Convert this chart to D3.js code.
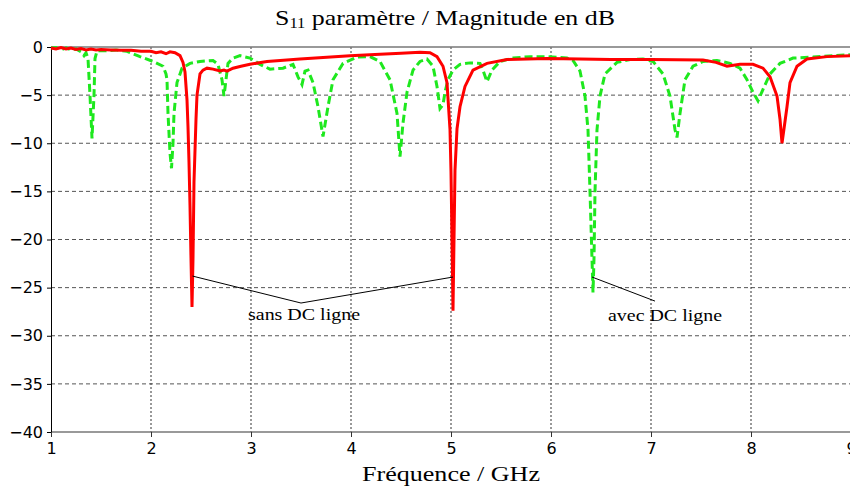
<!DOCTYPE html>
<html><head><meta charset="utf-8">
<script src="https://cdn.jsdelivr.net/npm/d3@7"></script>
<style>body{margin:0;background:#fff;} svg{display:block;}</style>
</head><body>
<svg id="c" width="850" height="488"></svg>
<script>
// ---- data ----
const xTicks = [1,2,3,4,5,6,7,8,9];
const yTicks = [0,-5,-10,-15,-20,-25,-30,-35,-40];
const redFreq = [1.00,1.05,1.10,1.15,1.20,1.25,1.30,1.35,1.40,1.45,1.50,1.60,1.70,1.80,1.90,2.00,2.05,2.10,2.15,2.19,2.24,2.29,2.32,2.34,2.36,2.37,2.38,2.39,2.40,2.41,2.42,2.43,2.45,2.46,2.49,2.52,2.56,2.62,2.69,2.73,2.76,2.82,2.90,2.99,3.16,3.49,3.99,4.29,4.50,4.69,4.79,4.86,4.92,4.96,4.99,5.00,5.01,5.02,5.03,5.04,5.06,5.09,5.14,5.22,5.36,5.56,5.96,6.29,6.60,7.00,7.52,7.65,7.76,7.89,8.02,8.12,8.19,8.26,8.29,8.31,8.33,8.36,8.39,8.46,8.56,8.76,8.99];
const redDb = [-0.1,-0.2,-0.05,-0.2,-0.1,-0.25,-0.15,-0.3,-0.2,-0.3,-0.25,-0.3,-0.35,-0.35,-0.45,-0.45,-0.6,-0.5,-0.7,-0.5,-0.6,-0.9,-1.6,-2.6,-5.5,-8.3,-12,-16.5,-22,-27,-22,-14,-7.5,-5,-2.8,-2.4,-2.2,-2.3,-2.5,-2.4,-2.5,-2.2,-2.0,-1.8,-1.5,-1.25,-0.9,-0.75,-0.65,-0.55,-0.6,-1.0,-2.0,-3.7,-8.6,-13,-20,-27.4,-20,-12.8,-8.5,-6.2,-4.1,-2.4,-1.7,-1.3,-1.2,-1.25,-1.3,-1.3,-1.35,-1.6,-2.0,-1.8,-1.8,-2.2,-3.1,-5.1,-7.5,-10,-8.5,-6.2,-3.7,-2.0,-1.25,-1.0,-0.9];
const greenFreq = [1.00,1.05,1.10,1.15,1.20,1.25,1.30,1.33,1.35,1.37,1.39,1.41,1.43,1.44,1.46,1.55,1.65,1.76,1.89,2.02,2.12,2.15,2.16,2.17,2.19,2.205,2.22,2.23,2.26,2.31,2.39,2.49,2.62,2.67,2.71,2.73,2.75,2.77,2.82,2.89,2.99,3.09,3.19,3.32,3.42,3.47,3.51,3.54,3.57,3.62,3.67,3.72,3.77,3.82,3.92,4.06,4.19,4.29,4.39,4.46,4.49,4.52,4.56,4.62,4.69,4.76,4.82,4.86,4.89,4.92,4.94,4.97,5.02,5.09,5.19,5.29,5.32,5.36,5.41,5.49,5.62,5.79,5.96,6.16,6.22,6.29,6.34,6.37,6.39,6.41,6.42,6.43,6.44,6.46,6.49,6.54,6.66,6.79,6.92,7.02,7.12,7.19,7.24,7.26,7.29,7.34,7.42,7.52,7.66,7.79,7.89,7.96,8.02,8.07,8.12,8.19,8.29,8.42,8.62,8.82,8.99];
const greenDb = [-0.1,-0.05,-0.3,-0.1,-0.3,-0.2,-0.5,-0.9,-0.6,-1.2,-5,-9.5,-5,-1.2,-0.4,-0.4,-0.3,-0.45,-1.0,-1.5,-2.0,-2.8,-3.4,-6.9,-11,-12.6,-10,-6.9,-3.7,-2.2,-1.7,-1.5,-1.4,-1.8,-3.4,-5.1,-3.4,-1.7,-1.15,-0.9,-1.15,-1.8,-2.3,-2.2,-1.8,-3.1,-3.9,-2.5,-2.4,-3.7,-6.2,-9.3,-6.2,-3.4,-1.7,-1.05,-1.0,-1.5,-3.4,-6.9,-11.4,-7.9,-4.7,-2.4,-1.5,-1.25,-2.0,-4.1,-6.4,-6.0,-4.7,-3.4,-2.4,-1.8,-1.65,-1.7,-2.4,-3.6,-2.4,-1.5,-1.15,-1.0,-1.0,-1.15,-1.4,-2.5,-5.1,-8.6,-15,-22,-25.5,-22,-15,-8.6,-5.1,-2.8,-1.6,-1.3,-1.25,-1.5,-2.8,-5.1,-8.6,-9.4,-6.9,-3.4,-2.0,-1.5,-1.4,-1.7,-2.2,-3.4,-4.7,-5.6,-4.4,-2.8,-1.7,-1.15,-1.05,-0.9,-0.8];
// annotation anchors [freq, dB]
const sansPts = [[2.415,-23.8],[3.5,-26.6],[5.02,-23.9]];
const avecPts = [[6.41,-23.9],[7.04,-26.4]];
const labels = [{t:"sans DC ligne", f:2.97, db:-28.4, w:112},{t:"avec DC ligne", f:6.57, db:-28.5, w:114}];

// ---- chart ----
const svg = d3.select("#c");
const x = d3.scaleLinear().domain([1,9]).range([51,851]);
const y = d3.scaleLinear().domain([-40,0]).range([432,47]);
const sans = "'DejaVu Sans', Verdana, sans-serif";
const serif = "'Liberation Serif', 'Times New Roman', serif";

// grid
svg.append("g").selectAll("line").data(yTicks.filter(d=>d<0 && d>-40)).join("line")
  .attr("x1",51).attr("x2",850).attr("y1",d=>y(d)).attr("y2",d=>y(d))
  .attr("stroke","#555").attr("stroke-width",1).attr("stroke-dasharray","4,3");
svg.append("g").selectAll("line").data(xTicks.filter(d=>d>1 && d<9)).join("line")
  .attr("x1",d=>x(d)).attr("x2",d=>x(d)).attr("y1",47).attr("y2",432)
  .attr("stroke","#333").attr("stroke-width",1).attr("stroke-dasharray","2,2");
svg.append("line").attr("x1",51).attr("x2",850).attr("y1",y(0)).attr("y2",y(0)).attr("stroke","#777").attr("stroke-width",1.5);
svg.append("line").attr("x1",51).attr("x2",850).attr("y1",y(-40)).attr("y2",y(-40)).attr("stroke","#777").attr("stroke-width",1.5);

// axes
const yAxis = d3.axisLeft(y).tickValues(yTicks).tickSize(4).tickFormat(d3.format("d"));
const gy = svg.append("g").attr("transform","translate(51,0)").call(yAxis);
gy.select(".domain").attr("stroke","#000");
gy.selectAll("text").attr("font-family",sans).attr("font-size",16).attr("fill","#000").attr("x",-8);
const xAxis = d3.axisBottom(x).tickValues(xTicks).tickSize(5).tickFormat(d3.format("d"));
const gx = svg.append("g").attr("transform","translate(0,432)").call(xAxis);
gx.select(".domain").remove();
gx.selectAll("line").attr("stroke","#333");
gx.selectAll("text").attr("font-family",sans).attr("font-size",16).attr("fill","#000").attr("y",11);

// lines
const line = d3.line().x(d=>x(d[0])).y(d=>y(d[1]));
const greenData = greenFreq.map((f,i)=>[f,greenDb[i]]);
const redData = redFreq.map((f,i)=>[f,redDb[i]]);
svg.append("path").datum(greenData).attr("d",line).attr("fill","none")
  .attr("stroke","#1ee81e").attr("stroke-width",3).attr("stroke-dasharray","8,4");
svg.append("path").datum(redData).attr("d",line).attr("fill","none")
  .attr("stroke","#ff0000").attr("stroke-width",3);

// annotations
svg.append("path").attr("d",line(sansPts)).attr("fill","none").attr("stroke","#000").attr("stroke-width",1);
svg.append("path").attr("d",line(avecPts)).attr("fill","none").attr("stroke","#000").attr("stroke-width",1);
svg.selectAll("text.lab").data(labels).join("text").attr("class","lab")
  .attr("x",d=>x(d.f)).attr("y",d=>y(d.db)).attr("font-family",serif).attr("font-size",17)
  .attr("textLength",d=>d.w).attr("lengthAdjust","spacingAndGlyphs")
  .attr("fill","#000").text(d=>d.t);

// title
const title = svg.append("text").attr("x",445).attr("y",25).attr("text-anchor","middle")
  .attr("font-family",serif).attr("font-size",22).attr("fill","#000")
  .attr("textLength",340).attr("lengthAdjust","spacingAndGlyphs");
title.append("tspan").text("S");
title.append("tspan").attr("font-size",14).attr("dy",3).text("11");
title.append("tspan").attr("dy",-3).text(" paramètre / Magnitude en dB");

svg.append("text").attr("x",451).attr("y",481).attr("text-anchor","middle")
  .attr("font-family",serif).attr("font-size",22).attr("fill","#000")
  .attr("textLength",178).attr("lengthAdjust","spacingAndGlyphs").text("Fréquence / GHz");
</script>
</body></html>
